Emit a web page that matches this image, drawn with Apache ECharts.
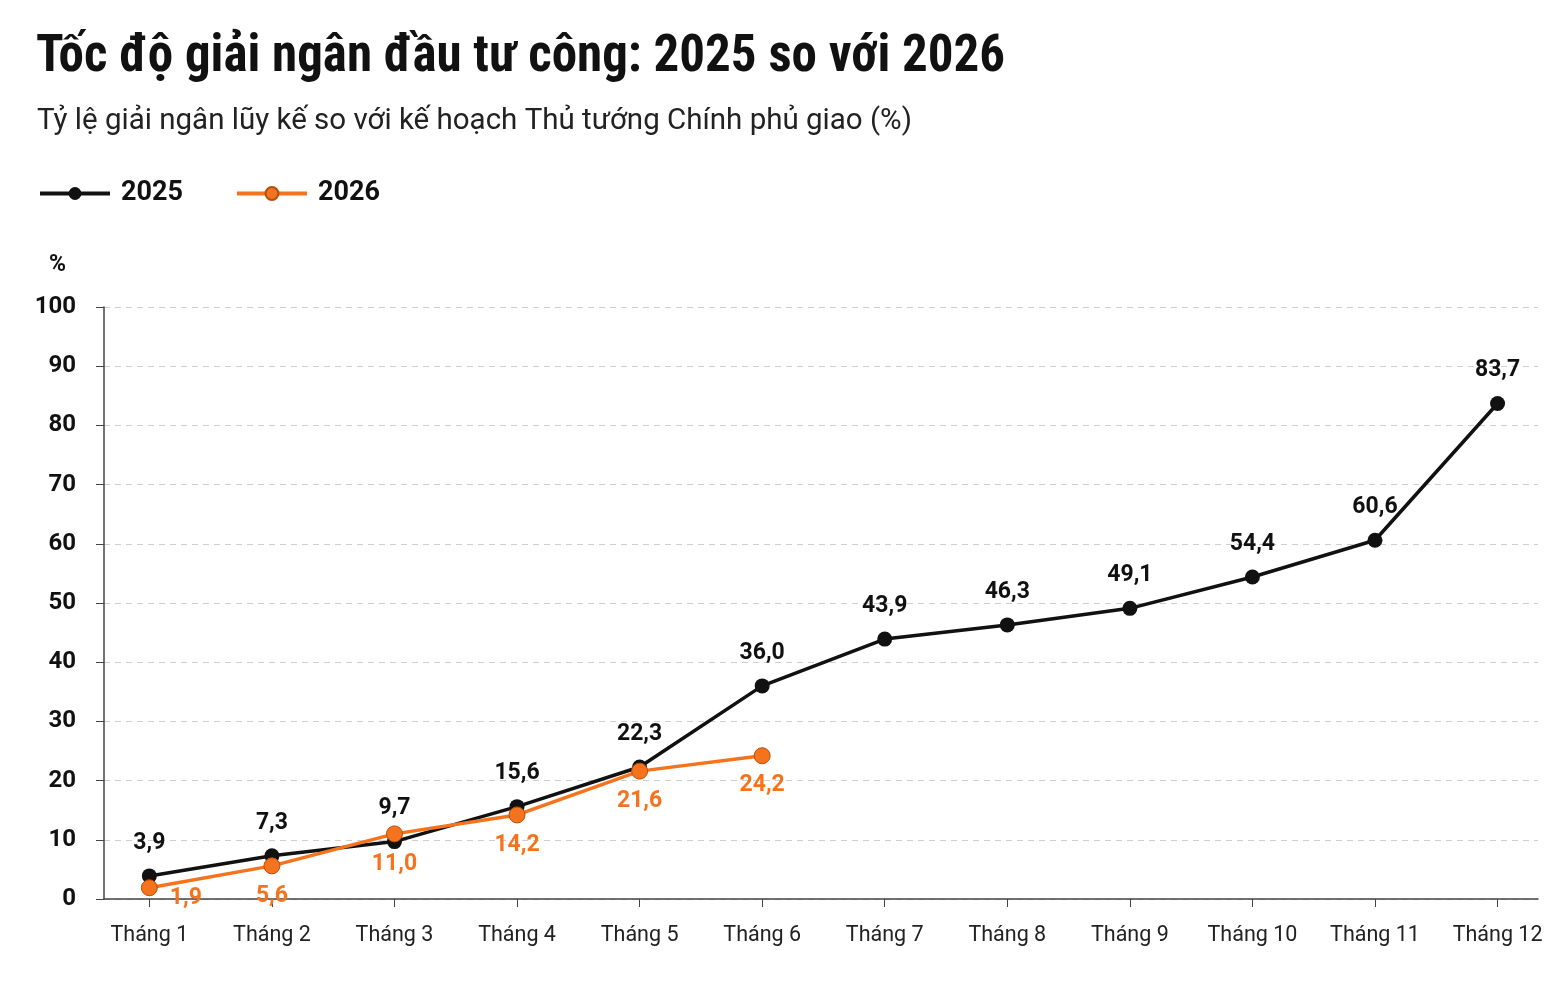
<!DOCTYPE html>
<html>
<head>
<meta charset="utf-8">
<script src="https://cdn.jsdelivr.net/npm/echarts@6/dist/echarts.min.js"></script>
<style>
  html, body { margin: 0; padding: 0; background: #fff; }
  #chart { width: 1563px; height: 1006px; }
</style>
</head>
<body>
<div id="chart"></div>
<script>
const months = ['Tháng 1', 'Tháng 2', 'Tháng 3', 'Tháng 4', 'Tháng 5', 'Tháng 6',
  'Tháng 7', 'Tháng 8', 'Tháng 9', 'Tháng 10', 'Tháng 11', 'Tháng 12'];
const data2025 = [3.9, 7.3, 9.7, 15.6, 22.3, 36.0, 43.9, 46.3, 49.1, 54.4, 60.6, 83.7];
const data2026 = [1.9, 5.6, 11.0, 14.2, 21.6, 24.2];
const yTicks = [0, 10, 20, 30, 40, 50, 60, 70, 80, 90, 100];

const black = '#111111';
const orange = '#f5731c';
const condensed = '"Roboto Condensed", "Liberation Sans Narrow", "DejaVu Sans Condensed", Roboto, sans-serif';

const fmt = v => v.toFixed(1).replace('.', ',');
const idx = months.map((m, i) => i);

const chart = echarts.init(document.getElementById('chart'));

chart.setOption({
  backgroundColor: '#ffffff',
  animation: false,
  title: [{
    text: 'Tốc độ giải ngân đầu tư công: 2025 so với 2026',
    left: 31, top: 28,
    textStyle: { fontFamily: condensed, fontSize: 51, fontWeight: 'bold', color: '#111' }
  }, {
    text: 'Tỷ lệ giải ngân lũy kế so với kế hoạch Thủ tướng Chính phủ giao (%)',
    left: 32, top: 102,
    textStyle: { fontFamily: 'Roboto', fontSize: 29.5, fontWeight: 'normal', color: '#222' }
  }],
  legend: {
    left: 33, top: 175,
    itemWidth: 70, itemHeight: 16, itemGap: 52,
    lineStyle: { width: 4 },
    textStyle: { fontFamily: 'Roboto', fontSize: 27, fontWeight: 'bold', color: '#111', padding: [0, 0, 0, 6] },
    data: ['2025', '2026']
  },
  grid: { left: 104, right: 25, top: 307, bottom: 107 },
  xAxis: {
    type: 'value',
    min: -0.37, max: 11.33,
    axisLine: { show: true, lineStyle: { color: '#444', width: 1.5 } },
    axisTick: { show: true, length: 8, customValues: idx, lineStyle: { color: '#444' } },
    axisLabel: {
      customValues: idx, margin: 26,
      formatter: v => months[Math.round(v)],
      fontFamily: 'Roboto', fontSize: 21.5, color: '#222'
    },
    splitLine: { show: false }
  },
  yAxis: {
    type: 'value',
    min: 0, max: 100, interval: 10,
    name: '%',
    nameLocation: 'end', nameGap: 30,
    nameTextStyle: { fontFamily: 'Roboto', fontSize: 23, fontWeight: 'bold', color: '#111', align: 'right', padding: [0, 38, 0, 0] },
    axisLine: { show: true, onZero: false, lineStyle: { color: '#444', width: 1.5 } },
    axisTick: { show: true, length: 8, lineStyle: { color: '#444' } },
    axisLabel: {
      margin: 28,
      fontFamily: 'Roboto', fontSize: 24, fontWeight: 'bold', color: '#111',
      formatter: v => yTicks.includes(v) ? String(v) : ''
    },
    splitLine: { show: true, lineStyle: { color: '#cfcfcf', type: [6, 5], width: 1 } }
  },
  series: [{
    name: '2025',
    type: 'line',
    data: data2025.map((v, i) => [i, v]),
    symbol: 'circle', symbolSize: 15,
    lineStyle: { color: black, width: 3.5 },
    itemStyle: { color: black },
    z: 3,
    label: {
      show: true, position: 'top', distance: 14,
      formatter: p => fmt(p.value[1]),
      fontFamily: 'Roboto', fontSize: 23, fontWeight: 'bold', color: '#111'
    }
  }, {
    name: '2026',
    type: 'line',
    data: data2026.map((v, i) => i === 0
      ? { value: [i, v], label: { position: 'right', offset: [2, 10] } }
      : [i, v]),
    symbol: 'circle', symbolSize: 16,
    lineStyle: { color: orange, width: 3.5 },
    itemStyle: { color: orange, borderColor: '#b84e0c', borderWidth: 1 },
    z: 4,
    label: {
      show: true, position: 'bottom', distance: 10,
      formatter: p => fmt(p.value[1]),
      fontFamily: 'Roboto', fontSize: 23, fontWeight: 'bold', color: orange
    }
  }]
});

window.addEventListener('resize', function () {
  chart.resize();
});
</script>
</body>
</html>
